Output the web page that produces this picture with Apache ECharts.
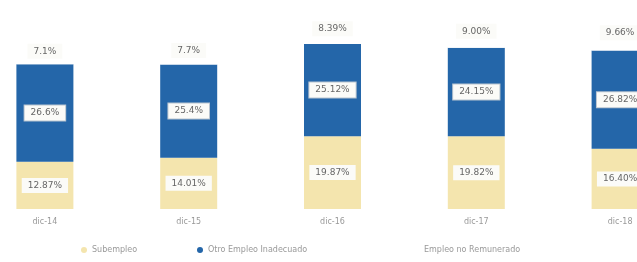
<!DOCTYPE html>
<html>
<head>
<meta charset="utf-8">
<script src="https://cdn.jsdelivr.net/npm/echarts@6/dist/echarts.min.js"></script>
<style>
html, body { margin: 0; padding: 0; background: #fff; }
#main { width: 637px; height: 262px; }
</style>
</head>
<body>
<div id="main"></div>
<script>
var categories = ['dic-14', 'dic-15', 'dic-16', 'dic-17', 'dic-18'];
var subempleo = [12.87, 14.01, 19.87, 19.82, 16.40];
var otroEmpleo = [26.6, 25.4, 25.12, 24.15, 26.82];
var noRemunerado = [7.1, 7.7, 8.39, 9.00, 9.66];
var labelsSub = ['12.87%', '14.01%', '19.87%', '19.82%', '16.40%'];
var labelsOtro = ['26.6%', '25.4%', '25.12%', '24.15%', '26.82%'];
var labelsNoRem = ['7.1%', '7.7%', '8.39%', '9.00%', '9.66%'];

var myChart = echarts.init(document.getElementById('main'));

function boxLabel(texts, border) {
	return {
		show: true,
		position: 'inside',
		formatter: function (p) { return texts[p.dataIndex]; },
		fontFamily: 'DejaVu Sans',
		fontSize: 9,
		color: '#666',
		backgroundColor: '#fbfbf8',
		borderColor: border,
		borderWidth: border ? 1 : 0,
		padding: [3, 6]
	};
}

var legendText = { fontSize: 8, color: '#999', fontFamily: 'DejaVu Sans' };

var option = {
	animation: false,
	grid: { left: -27, width: 719, top: 0, bottom: 53, outerBoundsMode: 'none', containLabel: false },
	legend: [
		{ data: ['Subempleo'], left: 76, top: 241, icon: 'circle', itemWidth: 6, itemHeight: 6, textStyle: legendText },
		{ data: ['Otro Empleo Inadecuado'], left: 192, top: 241, icon: 'circle', itemWidth: 6, itemHeight: 6, textStyle: legendText },
		{ data: ['Empleo no Remunerado'], left: 408, top: 241, icon: 'circle', itemWidth: 6, itemHeight: 6, textStyle: legendText }
	],
	xAxis: {
		type: 'category',
		data: categories,
		axisLine: { show: false },
		axisTick: { show: false },
		axisLabel: { color: '#999', fontSize: 8, fontFamily: 'DejaVu Sans', margin: 9 }
	},
	yAxis: {
		type: 'value',
		min: 0,
		max: 57,
		show: false,
		splitLine: { show: false }
	},
	series: [
		{
			name: 'Subempleo',
			type: 'bar',
			stack: 'total',
			barWidth: 57,
			data: subempleo,
			itemStyle: { color: '#f4e5ae' },
			label: boxLabel(labelsSub, null)
		},
		{
			name: 'Otro Empleo Inadecuado',
			type: 'bar',
			stack: 'total',
			data: otroEmpleo,
			itemStyle: { color: '#2466a9' },
			label: boxLabel(labelsOtro, '#b8c4d0')
		},
		{
			name: 'Empleo no Remunerado',
			type: 'bar',
			stack: 'total',
			data: noRemunerado,
			itemStyle: { color: '#ffffff' },
			label: boxLabel(labelsNoRem, null)
		}
	]
};

myChart.setOption(option);
</script>
</body>
</html>
